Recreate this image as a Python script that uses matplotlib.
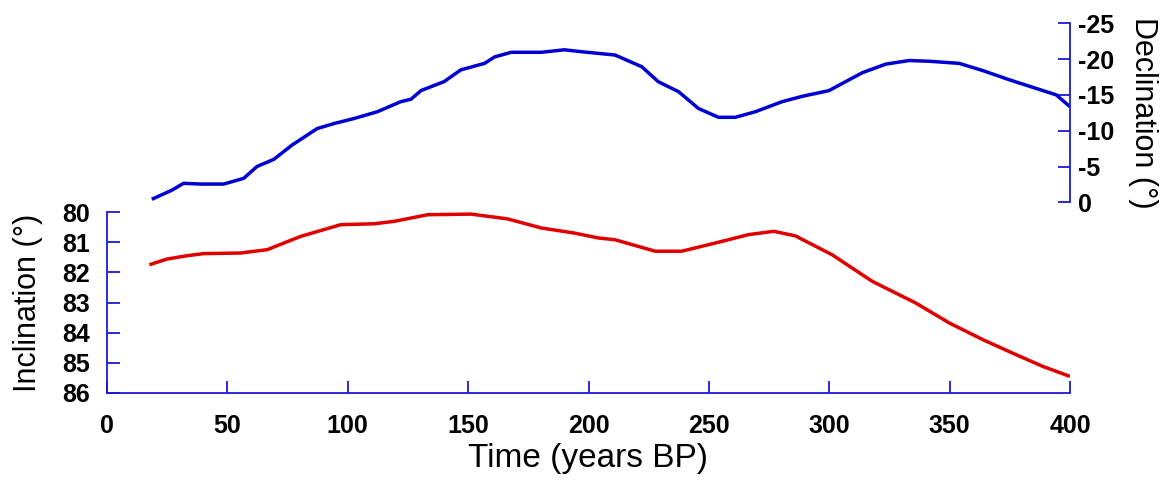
import matplotlib
matplotlib.use("Agg")
import matplotlib.pyplot as plt

plt.rcParams["axes.unicode_minus"] = False

# Declination (blue, upper panel)
dec_time = [18.6, 27, 31.8, 38.8, 48.5, 56.8, 62.3, 69.3, 76.9, 87.3, 94.3, 102.6,
            112.3, 122, 126.3, 130.4, 140, 147, 156.8, 161, 167.9, 180.4, 190, 197.1,
            211, 222.1, 229, 237.4, 245.7, 254, 261, 269.3, 280.4, 288.75, 299.9,
            306.8, 313.75, 323.5, 333.2, 341.5, 354, 363.75, 374.9, 386, 394.3, 400]
dec_vals = [-0.42, -1.7, -2.65, -2.55, -2.55, -3.35, -5.0, -6.0, -8.0, -10.3, -11.0, -11.7,
            -12.65, -14.05, -14.4, -15.6, -16.85, -18.5, -19.4, -20.3, -20.95, -20.95, -21.3, -21.03,
            -20.57, -18.94, -16.84, -15.45, -13.1, -11.87, -11.87, -12.65, -14.05, -14.8, -15.6,
            -16.85, -18.1, -19.3, -19.8, -19.7, -19.4, -18.4, -17.1, -15.9, -15.0, -13.35]

# Inclination (red, lower panel)
inc_time = [17.6, 24.9, 33.2, 40.1, 55.4, 66.5, 80.4, 97.1, 111, 119.3, 133.2, 151.25,
            166.5, 180.4, 194.3, 204, 211, 227.7, 238.75, 252.6, 266.5, 276.9, 285.9,
            301.25, 317.9, 336, 349.9, 363.75, 377.6, 388.75, 400]
inc_vals = [81.75, 81.56, 81.45, 81.38, 81.36, 81.25, 80.81, 80.42, 80.39, 80.31, 80.09, 80.07,
            80.23, 80.53, 80.70, 80.86, 80.92, 81.3, 81.3, 81.03, 80.75, 80.64, 80.79,
            81.42, 82.3, 83.02, 83.68, 84.23, 84.73, 85.12, 85.45]

x_ticks = [0, 50, 100, 150, 200, 250, 300, 350, 400]
inc_ticks = [80, 81, 82, 83, 84, 85, 86]
dec_ticks = [0, -5, -10, -15, -20, -25]

FONT = "Liberation Sans"
AXC = "#1a1ad8"
TICK_FS = 18

fig = plt.figure(figsize=(11.72, 4.8), dpi=100)

# lower axes (inclination)
ax = fig.add_axes([107/1172, 1-393/480, 963/1172, 181/480])
ax.plot(inc_time, inc_vals, color="#e00000", lw=2.5, solid_capstyle="butt")
ax.set_xlim(0, 400)
ax.set_ylim(86, 80)
ax.set_xticks(x_ticks)
ax.set_yticks(inc_ticks)
for s in ["top", "right"]:
    ax.spines[s].set_visible(False)
for s in ["left", "bottom"]:
    ax.spines[s].set_color(AXC)
    ax.spines[s].set_linewidth(1.3)
ax.tick_params(axis="both", direction="in", length=9, width=1.3, color=AXC,
               labelsize=TICK_FS)
ax.tick_params(axis="y", pad=12)
ax.tick_params(axis="x", pad=15)
for lab in ax.get_xticklabels() + ax.get_yticklabels():
    lab.set_fontfamily(FONT)
    lab.set_fontweight("bold")
ax.set_xlabel("Time (years BP)", fontsize=24, fontfamily=FONT, labelpad=4)
ax.set_ylabel("Inclination (°)", fontsize=22, fontfamily=FONT, labelpad=14)

# upper axes (declination)
ax2 = fig.add_axes([107/1172, 1-202.3/480, 963/1172, 179/480])
ax2.plot(dec_time, dec_vals, color="#0000d0", lw=2.5, solid_capstyle="butt")
ax2.set_xlim(0, 400)
ax2.set_ylim(0, -25)
ax2.set_yticks(dec_ticks)
ax2.set_xticks([])
ax2.patch.set_alpha(0)
for s in ["top", "left", "bottom"]:
    ax2.spines[s].set_visible(False)
ax2.spines["right"].set_color(AXC)
ax2.spines["right"].set_linewidth(1.3)
ax2.yaxis.tick_right()
ax2.yaxis.set_label_position("right")
ax2.tick_params(axis="y", direction="in", length=9, width=1.3, color=AXC,
                labelsize=TICK_FS, pad=6)
for lab in ax2.get_yticklabels():
    lab.set_fontfamily(FONT)
    lab.set_fontweight("bold")
ax2.set_ylabel("Declination (°)", fontsize=22, fontfamily=FONT, rotation=270,
               labelpad=31)

fig.savefig("out.png", dpi=100)
